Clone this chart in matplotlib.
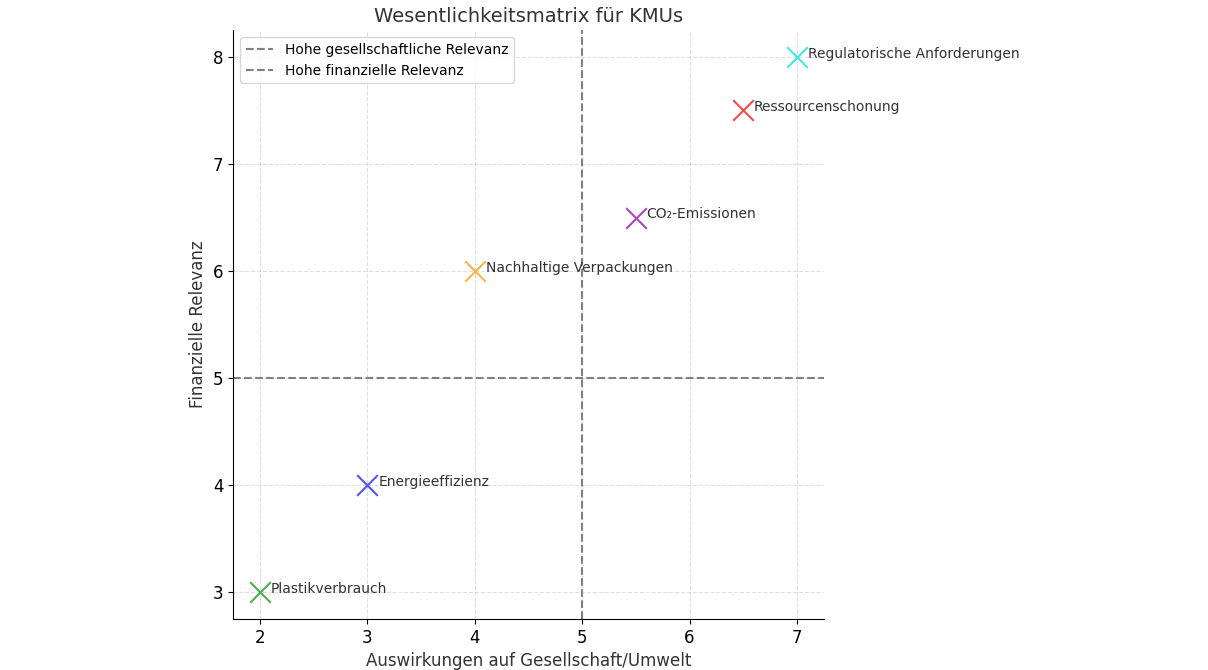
import matplotlib
matplotlib.use("Agg")
import matplotlib.pyplot as plt

topics = ["Plastikverbrauch", "Energieeffizienz", "Nachhaltige Verpackungen",
          "CO₂-Emissionen", "Ressourcenschonung", "Regulatorische Anforderungen"]
impact = [2, 3, 4, 5.5, 6.5, 7]
financial = [3, 4, 6, 6.5, 7.5, 8]
colors = ["#4caf50", "#5555ee", "#ffb347", "#ab47bc", "#f44b4b", "#40e8e8"]

fig = plt.figure(figsize=(12.08, 6.7), dpi=100)
ax = fig.add_axes([0.193, 0.076, 0.489, 0.879])
for x, y, c, t in zip(impact, financial, colors, topics):
    ax.scatter(x, y, marker="x", s=220, color=c, linewidths=1.5, zorder=3)
    ax.text(x + 0.1, y + 0.03, t, fontsize=10, color="#333333", va="center")
ax.axvline(5, color="gray", linestyle="--", linewidth=1.5, label="Hohe gesellschaftliche Relevanz")
ax.axhline(5, color="gray", linestyle="--", linewidth=1.5, label="Hohe finanzielle Relevanz")
ax.set_xlim(1.75, 7.25)
ax.set_ylim(2.75, 8.25)
ax.grid(True, linestyle="--", alpha=0.4)
ax.set_xlabel("Auswirkungen auf Gesellschaft/Umwelt", fontsize=12, color="#333333")
ax.set_ylabel("Finanzielle Relevanz", fontsize=12, color="#333333")
ax.set_title("Wesentlichkeitsmatrix für KMUs", fontsize=14, color="#333333")
ax.tick_params(labelsize=12)
ax.spines["top"].set_visible(False)
ax.spines["right"].set_visible(False)
ax.legend(loc="upper left", fontsize=10)
fig.savefig("out.png")
